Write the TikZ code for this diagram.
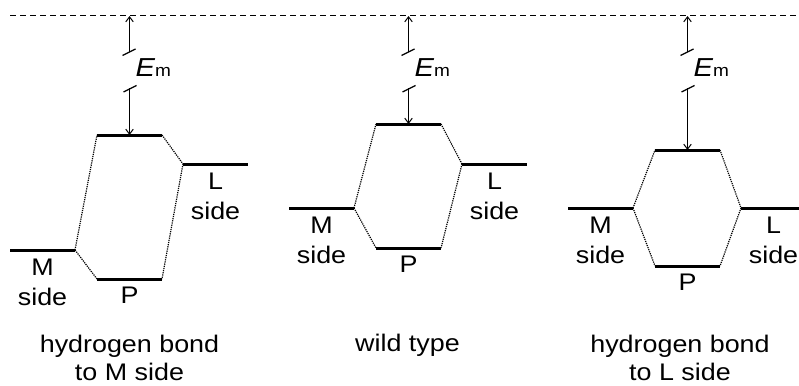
\documentclass[tikz,border=0pt]{standalone}
\usepackage{fontspec}
\setmainfont{Liberation Sans}[FakeStretch=1.12]
\usetikzlibrary{arrows.meta}

\tikzset{
  level/.style={line width=3pt},
  link/.style={line width=1.2pt, dash pattern=on 1.2pt off 1pt, black},
  refline/.style={line width=1pt, dash pattern=on 6pt off 4pt},
  gap/.style={line width=1.2pt, -{Straight Barb[length=5pt,width=7.5pt,line width=1pt]}},
  brk/.style={line width=1.2pt},
  lab/.style={font=\fontsize{24}{30}\selectfont, align=center, anchor=base, inner sep=0pt},
  title/.style={font=\fontsize{24}{28}\selectfont, align=center, anchor=base, inner sep=0pt},
}

% One energy-level panel: #1 name prefix, #2 left x, #3 M level y,
% #4 P level y, #5 upper level y, #6 L level y
% (a multi-line node's base anchor sits on its last line)
\newcommand\energypanel[6]{%
  \begin{scope}[shift={(#2,0)}]
    \coordinate (#1-Ma) at (0,#3);   \coordinate (#1-Mb) at (65,#3);
    \coordinate (#1-Pa) at (87,#4);  \coordinate (#1-Pb) at (152,#4);
    \coordinate (#1-Ta) at (87,#5);  \coordinate (#1-Tb) at (152,#5);
    \coordinate (#1-La) at (173,#6); \coordinate (#1-Lb) at (238,#6);
    \coordinate (#1-Tm) at (119.5,#5);
    \coordinate (#1-Eu) at (119.5,16);
    \coordinate (#1-Ebu) at (119.5,52);
    \coordinate (#1-Ebl) at (119.5,88.5);
    % levels
    \draw[level] (#1-Ma) -- (#1-Mb);
    \draw[level] (#1-Pa) -- (#1-Pb);
    \draw[level] (#1-Ta) -- (#1-Tb);
    \draw[level] (#1-La) -- (#1-Lb);
    % correlation lines
    \draw[link] (#1-Mb) -- (#1-Ta);
    \draw[link] (#1-Mb) -- (#1-Pa);
    \draw[link] (#1-Tb) -- (#1-La);
    \draw[link] (#1-La) -- (#1-Pb);
    % broken double arrow for E_m
    \draw[gap] (#1-Ebu) -- (#1-Eu);
    \draw[gap] (#1-Ebl) -- (#1-Tm);
    \draw[brk] (112.5,55.5) -- (125.5,49);
    \draw[brk] (113.5,92) -- (126.5,85.5);
    \node[anchor=base west, inner sep=0pt] (#1-E) at (125.5,77)
      {{\fontsize{26}{26}\selectfont\itshape E}{\fontsize{17}{17}\selectfont m}};
    % level labels
    \node[lab] (#1-Mlab) at (32.5,#3+55) {M\\side};
    \node[lab] (#1-Plab) at (119.5,#4+24) {P};
    \node[lab] (#1-Llab) at (205.5,#6+55) {L\\side};
  \end{scope}}

\begin{document}
\begin{tikzpicture}[x=1pt, y=-1pt]
  \clip (0,0) rectangle (799,385);
  \fill[white] (0,0) rectangle (799,385);

  % vacuum reference level
  \coordinate (ref-a) at (10,16);
  \coordinate (ref-b) at (799,16);
  \draw[refline] (ref-a) -- (ref-b);

  \energypanel{hm}{10}{250}{279}{135}{164}
  \energypanel{wt}{289}{208}{248}{124}{164}
  \energypanel{hl}{568}{208}{266}{150}{208}

  \node[title] (hm-title) at (129.5,380) {hydrogen bond\\to M side};
  \node[title] (wt-title) at (407.5,351) {wild type};
  \node[title] (hl-title) at (680,380) {hydrogen bond\\to L side};
\end{tikzpicture}
\end{document}
